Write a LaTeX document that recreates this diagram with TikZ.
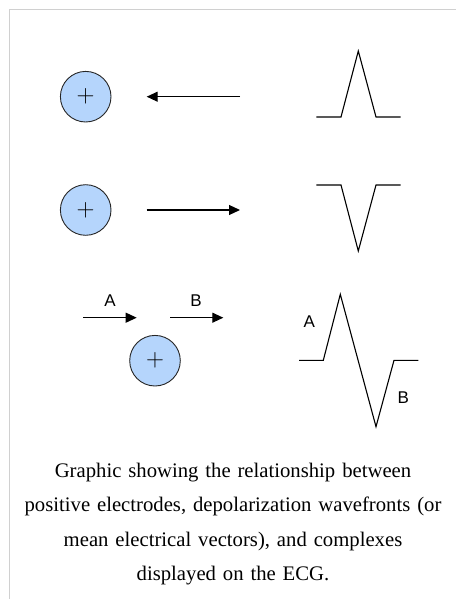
\documentclass[tikz,border=0pt]{standalone}
\usepackage{fontspec}
\setmainfont{Liberation Serif}
\setsansfont{Liberation Sans}
\usetikzlibrary{arrows.meta}
\definecolor{elec}{RGB}{181,213,252}
\definecolor{framegray}{RGB}{208,208,208}
\tikzset{
  electrode/.style={circle, draw=black!85, line width=0.9pt, fill=elec, minimum size=50.6pt, inner sep=0pt, font=\fontsize{27}{27}\selectfont},
  vec/.style={line width=1.1pt, -{Triangle[length=11pt,width=10pt]}},
  wave/.style={line width=1.1pt, line join=miter},
  lbl/.style={font=\sffamily\fontsize{17}{17}\selectfont, inner sep=0pt},
  caption/.style={font=\fontsize{20.7}{34.5}\selectfont, align=center, text width=450pt, inner sep=0pt}
}
\begin{document}
\begin{tikzpicture}[x=1pt,y=-1pt]
\useasboundingbox (0,0) rectangle (456,599);
% frame
\draw[framegray, line width=1.5pt] (9.5,599) -- (9.5,9.5) -- (456,9.5);
% row 1
\node[electrode] (e1) at (85.7,96.7) {$+$};
\coordinate (a1s) at (240,96.7);
\coordinate (a1e) at (146.7,96.7);
\draw[vec] (a1s) -- (a1e);
\draw[wave] (316.3,117) -- (341,117) -- (358.3,51) -- (376,117) -- (400.7,117);
% row 2
\node[electrode] (e2) at (85.7,210) {$+$};
\coordinate (a2s) at (146.7,210);
\coordinate (a2e) at (240,210);
\draw[vec] (a2s) -- (a2e);
\draw[wave] (316.3,185) -- (341,185) -- (358.3,251) -- (376,185) -- (400.7,185);
% row 3
\coordinate (aAs) at (83.3,317.7);
\coordinate (aAe) at (136.7,317.7);
\draw[vec] (aAs) -- (aAe);
\node[lbl] (lA) at (110,300.7) {A};
\coordinate (aBs) at (170,317.7);
\coordinate (aBe) at (223.3,317.7);
\draw[vec] (aBs) -- (aBe);
\node[lbl] (lB) at (196,300.7) {B};
\node[electrode] (e3) at (155,360.7) {$+$};
\draw[wave] (299,360.3) -- (323.3,360.3) -- (340.3,294.3) -- (376,426.7) -- (394,360.3) -- (418.3,360.3);
\node[lbl] (wA) at (309.3,321.7) {A};
\node[lbl] (wB) at (403.3,397.7) {B};
% caption
\node[caption] (cap) at (233,524) {Graphic showing the relationship between\\positive electrodes, depolarization wavefronts (or\\mean electrical vectors), and complexes\\displayed on the ECG.};
\end{tikzpicture}
\end{document}
